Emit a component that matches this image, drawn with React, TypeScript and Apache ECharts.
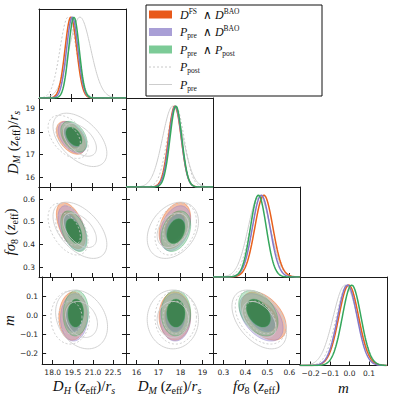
import React, { useEffect, useRef } from "react";
import * as echarts from "echarts";

// ---------------- data ----------------
// datasets: 0 = D^FS ∧ D^BAO, 1 = P_pre ∧ D^BAO, 2 = P_pre ∧ P_post, 3 = P_post, 4 = P_pre
const DATASET_KEYS = ["DFS_DBAO", "Ppre_DBAO", "Ppre_Ppost", "Ppost", "Ppre"];

const MEAN_DH = [19.5, 19.6, 19.72, 19.3, 20.15];
const MEAN_DM = [17.74, 17.76, 17.79, 17.78, 17.65];
const MEAN_FS8 = [0.484, 0.472, 0.459, 0.468, 0.463];
const MEAN_M = [-0.004, -0.011, 0.011, -0.012, -0.022];

const SIGMA_DH = [0.42, 0.41, 0.38, 0.58, 0.78];
const SIGMA_DM = [0.29, 0.28, 0.27, 0.38, 0.47];
const SIGMA_FS8 = [0.041, 0.04, 0.036, 0.046, 0.05];
const SIGMA_M = [0.051, 0.05, 0.048, 0.056, 0.062];

const CORR_DH_DM = [-0.45, -0.45, -0.4, -0.45, -0.5];
const CORR_DH_FS8 = [-0.5, -0.5, -0.45, -0.45, -0.5];
const CORR_DM_FS8 = [0.35, 0.35, 0.3, 0.3, 0.3];
const CORR_DH_M = [0.05, 0.05, 0.05, 0.0, -0.25];
const CORR_DM_M = [0.0, 0.0, 0.0, 0.0, 0.0];
const CORR_FS8_M = [-0.45, -0.45, -0.4, -0.4, -0.45];

const TICKS_DH = [18.0, 19.5, 21.0, 22.5];
const TICKS_DM = [16, 17, 18, 19];
const TICKS_FS8 = [0.3, 0.4, 0.5, 0.6];
const TICKS_M = [-0.2, -0.1, 0.0, 0.1];

// ---------------- derived tables ----------------
const MEANS = [MEAN_DH, MEAN_DM, MEAN_FS8, MEAN_M];
const SIGMAS = [SIGMA_DH, SIGMA_DM, SIGMA_FS8, SIGMA_M];
const TICKS = [TICKS_DH, TICKS_DM, TICKS_FS8, TICKS_M];
function corrOf(a: number, b: number): number[] {
  const k = a * 10 + b;
  if (k === 1) return CORR_DH_DM;
  if (k === 2) return CORR_DH_FS8;
  if (k === 12) return CORR_DM_FS8;
  if (k === 3) return CORR_DH_M;
  if (k === 13) return CORR_DM_M;
  return CORR_FS8_M;
}

// ---------------- layout / style ----------------
const COL_LEFT = [39, 126, 213, 300];
const COL_W = 87;
const ROW_TOP = [9, 98, 187, 277];
const ROW_H = [89, 89, 90, 90];
const X_RANGES = [
  [17.21, 23.46],
  [15.52, 19.475],
  [0.253, 0.648],
  [-0.255, 0.193],
];
const Y_RANGES = [
  [0, 1.1],
  [15.59, 19.48],
  [0.257, 0.654],
  [-0.255, 0.2],
];
const FMT = [
  (v: number) => v.toFixed(1),
  (v: number) => String(Math.round(v)),
  (v: number) => v.toFixed(1),
  (v: number) => (v < -1e-9 ? "\u2212" : "") + Math.abs(v).toFixed(1),
];

const SERIF = "Liberation Serif";
const NAME_RICH: any = {
  it: { fontFamily: SERIF, fontStyle: "italic", fontSize: 15, lineHeight: 18, color: "#111" },
  n: { fontFamily: SERIF, fontSize: 15, lineHeight: 18, color: "#111" },
  subi: { fontFamily: SERIF, fontStyle: "italic", fontSize: 10, height: 10, lineHeight: 18, verticalAlign: "bottom", color: "#111" },
  sub: { fontFamily: SERIF, fontSize: 10, height: 10, lineHeight: 18, verticalAlign: "bottom", color: "#111" },
};
const PARAM_NAMES = [
  "{it|D}{subi|H}{n| (}{it|z}{sub|eff}{n|)/}{it|r}{subi|s}",
  "{it|D}{subi|M}{n| (}{it|z}{sub|eff}{n|)/}{it|r}{subi|s}",
  "{it|fσ}{sub|8}{n| (}{it|z}{sub|eff}{n|)}",
  "{it|m}",
];

const LINE_COLORS = ["#e8601c", "#8578c8", "#35a75c", "#c8c8c8", "#cdcdcd"];
const FILL_OUTER = ["rgba(236,112,52,0.45)", "rgba(168,150,215,0.45)", "rgba(118,196,140,0.45)"];
const FILL_INNER = ["rgba(222,92,32,0.55)", "rgba(135,120,185,0.6)", "rgba(45,125,65,0.82)"];
const LEGEND_PATCH = ["#e8591a", "#a99fd6", "#7ccb97"];

function ellipse(mx: number, my: number, sx: number, sy: number, rho: number, r: number, api: any) {
  const pts: number[][] = [];
  const c = Math.sqrt(Math.max(0, 1 - rho * rho));
  for (let k = 0; k <= 90; k++) {
    const t = (k / 90) * Math.PI * 2;
    const x = mx + r * sx * Math.cos(t);
    const y = my + r * sy * (rho * Math.cos(t) + c * Math.sin(t));
    pts.push(api.coord([x, y]));
  }
  return pts;
}

function axis(gridIndex: number, position: string, range: number[], ticks: number[], showTicks: boolean, showLabels: boolean, fmt: any, name: string, nameGap: number) {
  return {
    type: "value",
    gridIndex,
    position,
    min: range[0],
    max: range[1],
    splitLine: { show: false },
    axisLine: { show: true, onZero: false, lineStyle: { color: "#1a1a1a", width: 1 } },
    axisTick: { show: showTicks, inside: true, length: 4, customValues: ticks, lineStyle: { color: "#1a1a1a", width: 1 } },
    axisLabel: {
      show: showLabels,
      customValues: ticks,
      formatter: fmt,
      margin: 4,
      fontSize: 7.5,
      fontFamily: "DejaVu Sans",
      color: "#222",
    },
    name,
    nameLocation: "middle",
    nameGap,
    nameRotate: position === "left" ? 90 : 0,
    nameTextStyle: { rich: NAME_RICH },
  };
}

function buildOption() {
  const grid: any[] = [];
  const xAxis: any[] = [];
  const yAxis: any[] = [];
  const series: any[] = [];
  let g = 0;
  for (let i = 0; i < 4; i++) {
    for (let j = 0; j <= i; j++) {
      const diag = i === j;
      grid.push({ left: COL_LEFT[j], top: ROW_TOP[i], width: COL_W, height: ROW_H[i], containLabel: false });
      xAxis.push(axis(g, "bottom", X_RANGES[j], TICKS[j], true, i === 3, FMT[j], i === 3 ? PARAM_NAMES[j] : "", 13));
      xAxis.push(axis(g, "top", X_RANGES[j], TICKS[j], !diag, false, FMT[j], "", 0));
      const yr = diag ? [0, 1.1] : Y_RANGES[i];
      const yt = diag ? [] : TICKS[i];
      yAxis.push(axis(g, "left", yr, yt, !diag, !diag && j === 0, FMT[i], !diag && j === 0 ? PARAM_NAMES[i] : "", 15));
      yAxis.push(axis(g, "right", yr, yt, !diag, false, FMT[i], "", 0));

      if (diag) {
        const order = [4, 3, 0, 1, 2];
        for (const ds of order) {
          const mu = MEANS[j][ds];
          const sg = SIGMAS[j][ds];
          const [a, b] = X_RANGES[j];
          const pts: number[][] = [];
          for (let k = 0; k <= 160; k++) {
            const x = a + ((b - a) * k) / 160;
            pts.push([x, Math.exp(-0.5 * ((x - mu) / sg) * ((x - mu) / sg))]);
          }
          series.push({
            type: "line",
            name: DATASET_KEYS[ds],
            xAxisIndex: 2 * g,
            yAxisIndex: 2 * g,
            data: pts,
            showSymbol: false,
            symbol: "none",
            silent: true,
            clip: true,
            lineStyle: {
              color: LINE_COLORS[ds],
              width: ds >= 3 ? 1 : 1.5,
              type: ds === 3 ? [2, 2] : "solid",
            },
          });
        }
      } else {
        const px = j;
        const py = i;
        const corr = corrOf(px, py);
        for (let ds = 0; ds < 5; ds++) {
          const sx = SIGMAS[px][ds];
          const sy = SIGMAS[py][ds];
          const rho = corr[ds];
          series.push({
            type: "custom",
            name: DATASET_KEYS[ds],
            coordinateSystem: "cartesian2d",
            xAxisIndex: 2 * g,
            yAxisIndex: 2 * g,
            silent: true,
            clip: true,
            data: [[MEANS[px][ds], MEANS[py][ds]]],
            encode: { x: 0, y: 1 },
            renderItem: (params: any, api: any) => {
              const mx = api.value(0);
              const my = api.value(1);
              const outer = ellipse(mx, my, sx, sy, rho, 2.48, api);
              const inner = ellipse(mx, my, sx, sy, rho, 1.52, api);
              if (ds < 3) {
                return {
                  type: "group",
                  children: [
                    { type: "polygon", shape: { points: outer }, style: { fill: FILL_OUTER[ds], stroke: LINE_COLORS[ds], lineWidth: 0.4, opacity: 1 } },
                    { type: "polygon", shape: { points: inner }, style: { fill: FILL_INNER[ds], stroke: LINE_COLORS[ds], lineWidth: 0.4 } },
                  ],
                };
              }
              const st: any = { fill: null, stroke: LINE_COLORS[ds], lineWidth: 0.9 };
              if (ds === 3) st.lineDash = [2, 2];
              return {
                type: "group",
                children: [
                  { type: "polyline", shape: { points: outer }, style: { ...st } },
                  { type: "polyline", shape: { points: inner }, style: { ...st } },
                ],
              };
            },
          });
        }
      }
      g++;
    }
  }

  const LR: any = {
    it: { fontFamily: SERIF, fontStyle: "italic", fontSize: 12, lineHeight: 15, fill: "#111", color: "#111" },
    n: { fontFamily: SERIF, fontSize: 12, lineHeight: 15, fill: "#111", color: "#111" },
    sup: { fontFamily: SERIF, fontSize: 7.5, height: 8, lineHeight: 15, verticalAlign: "top", fill: "#111", color: "#111" },
    sub: { fontFamily: SERIF, fontSize: 7.5, height: 8, lineHeight: 15, verticalAlign: "bottom", fill: "#111", color: "#111" },
  };
  const legendTexts = [
    "{it|D}{sup|FS}{n|  ∧ }{it|D}{sup|BAO}",
    "{it|P}{sub|pre}{n|  ∧ }{it|D}{sup|BAO}",
    "{it|P}{sub|pre}{n|  ∧ }{it|P}{sub|post}",
    "{it|P}{sub|post}",
    "{it|P}{sub|pre}",
  ];
  const rowY = [14.5, 32, 49.5, 67, 84.5];
  const graphic: any[] = [
    { type: "rect", shape: { x: 146, y: 5, width: 176, height: 91 }, style: { fill: "#fff", stroke: "#111", lineWidth: 1 }, z: 10 },
  ];
  for (let k = 0; k < 5; k++) {
    if (k < 3) {
      graphic.push({ type: "rect", shape: { x: 149, y: rowY[k] - 4, width: 23, height: 8 }, style: { fill: LEGEND_PATCH[k] }, z: 11 });
    } else {
      graphic.push({
        type: "line",
        shape: { x1: 149, y1: rowY[k], x2: 172, y2: rowY[k] },
        style: { stroke: LINE_COLORS[k], lineWidth: 1, lineDash: k === 3 ? [2, 2] : null },
        z: 11,
      });
    }
    graphic.push({
      type: "text",
      x: 180,
      y: rowY[k],
      style: { text: legendTexts[k], rich: LR, verticalAlign: "middle", align: "left", fill: "#111" },
      z: 11,
    });
  }

  return {
    animation: false,
    backgroundColor: "#fff",
    grid,
    xAxis,
    yAxis,
    series,
    graphic,
  };
}

export default function App() {
  const ref = useRef<HTMLDivElement>(null);
  useEffect(() => {
    const chart = echarts.init(ref.current as HTMLDivElement, null, { renderer: "svg" });
    chart.setOption(buildOption() as any);
    return () => chart.dispose();
  }, []);
  return <div ref={ref} style={{ position: "fixed", left: 0, top: 0, width: 393, height: 396, background: "#fff" }} />;
}
